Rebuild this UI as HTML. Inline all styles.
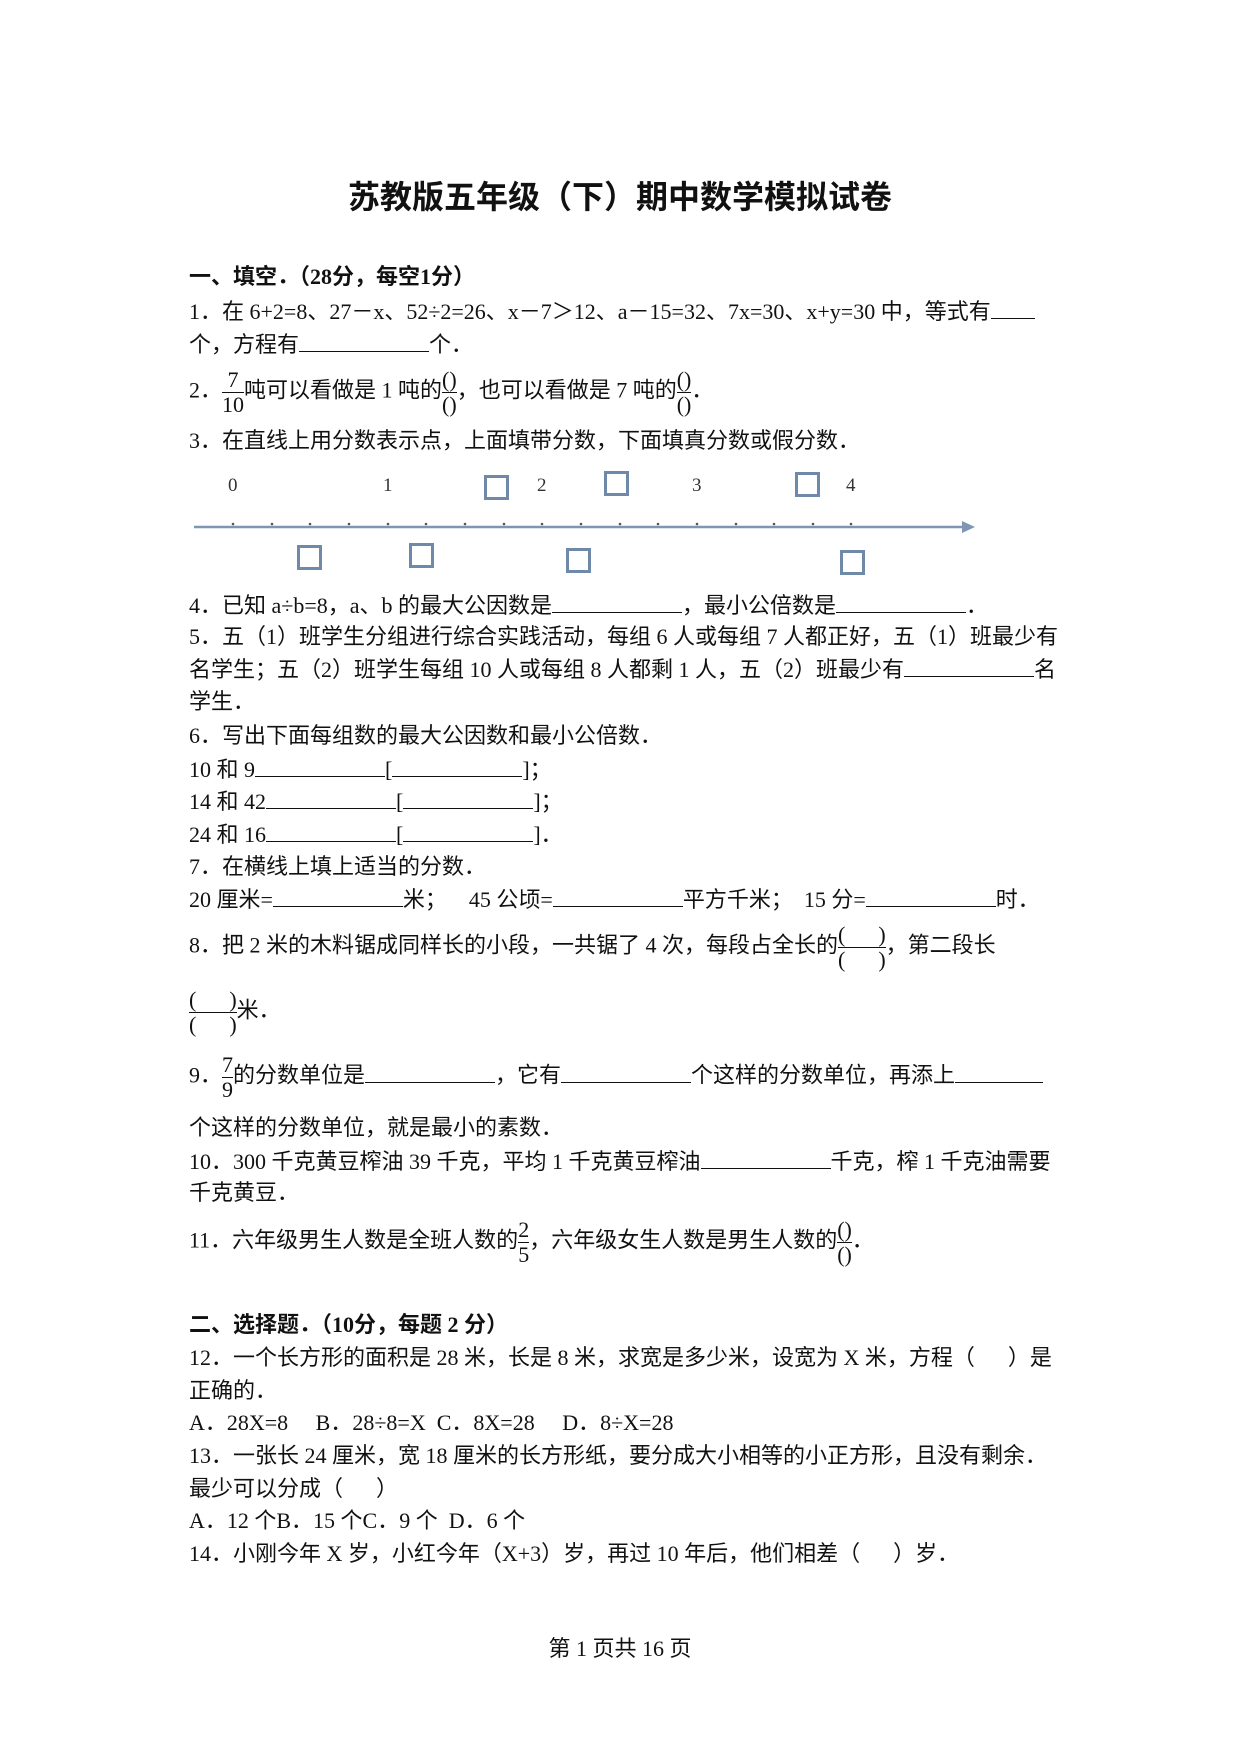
<!DOCTYPE html>
<html><head><meta charset="utf-8"><style>
body{margin:0;background:#fff}
.pg{position:relative;width:1240px;height:1754px;overflow:hidden;font-family:"Liberation Serif","Noto Sans CJK SC",serif;font-size:22px;color:#111}
.l{position:absolute;left:189px;white-space:nowrap;line-height:26px}
.b{display:inline-block;width:130px;border-bottom:1.5px solid #111;height:20px;vertical-align:baseline}
.fr{display:inline-block;vertical-align:middle;text-align:center;line-height:24px;font-size:22px}
.fr span{display:block}
.fr .n{border-bottom:1.3px solid #111}
.h{font-weight:bold}
.box{position:absolute;width:25px;height:25px;border:3px solid #6f8aa8;box-sizing:border-box}
.nl{position:absolute;font-size:19px;color:#333}
</style></head><body><div class="pg">
<div class="l h" style="left:0;width:1240px;text-align:center;top:179px;font-size:32px;line-height:36px">苏教版五年级（下）期中数学模拟试卷</div>
<div class="l h" style="top:264px">一、填空．（28分，每空1分）</div>
<div class="l" style="top:298px">1．在 6+2=8、27－x、52÷2=26、x－7＞12、a－15=32、7x=30、x+y=30 中，等式有<span class="b" style="width:44px"></span></div>
<div class="l" style="top:331px">个，方程有<span class="b"></span>个．</div>
<div class="l" style="top:368px">2．<span class="fr"><span class="n">7</span><span>10</span></span>吨可以看做是 1 吨的<span class="fr"><span class="n">()</span><span>()</span></span>，也可以看做是 7 吨的<span class="fr"><span class="n">()</span><span>()</span></span>．</div>
<div class="l" style="top:428px">3．在直线上用分数表示点，上面填带分数，下面填真分数或假分数．</div>
<svg style="position:absolute;left:0;top:0" width="1240" height="1754">
<line x1="194" y1="527" x2="965" y2="527" stroke="#7e96b3" stroke-width="2.5"/>
<polygon points="975,527 962,521 962,533" fill="#7e96b3"/>
<g fill="#555">
<circle cx="233" cy="524" r="1.3"/><circle cx="272" cy="524" r="1.3"/><circle cx="310" cy="524" r="1.3"/><circle cx="349" cy="524" r="1.3"/><circle cx="388" cy="524" r="1.3"/><circle cx="426" cy="524" r="1.3"/><circle cx="465" cy="524" r="1.3"/><circle cx="504" cy="524" r="1.3"/><circle cx="542" cy="524" r="1.3"/><circle cx="581" cy="524" r="1.3"/><circle cx="620" cy="524" r="1.3"/><circle cx="658" cy="524" r="1.3"/><circle cx="697" cy="524" r="1.3"/><circle cx="736" cy="524" r="1.3"/><circle cx="774" cy="524" r="1.3"/><circle cx="813" cy="524" r="1.3"/><circle cx="851" cy="524" r="1.3"/></g>
</svg>
<div class="nl" style="left:228px;top:475px">0</div>
<div class="nl" style="left:383px;top:475px">1</div>
<div class="nl" style="left:537px;top:475px">2</div>
<div class="nl" style="left:692px;top:475px">3</div>
<div class="nl" style="left:846px;top:475px">4</div>
<div class="box" style="left:484px;top:475px"></div>
<div class="box" style="left:604px;top:471px"></div>
<div class="box" style="left:795px;top:472px"></div>
<div class="box" style="left:297px;top:545px"></div>
<div class="box" style="left:409px;top:543px"></div>
<div class="box" style="left:566px;top:548px"></div>
<div class="box" style="left:840px;top:550px"></div>
<div class="l" style="top:592px">4．已知 a÷b=8，a、b 的最大公因数是<span class="b"></span>，最小公倍数是<span class="b"></span>．</div>
<div class="l" style="top:624px">5．五（1）班学生分组进行综合实践活动，每组 6 人或每组 7 人都正好，五（1）班最少有</div>
<div class="l" style="top:656px">名学生；五（2）班学生每组 10 人或每组 8 人都剩 1 人，五（2）班最少有<span class="b"></span>名</div>
<div class="l" style="top:689px">学生．</div>
<div class="l" style="top:723px">6．写出下面每组数的最大公因数和最小公倍数．</div>
<div class="l" style="top:756px">10 和 9<span class="b"></span>[<span class="b"></span>]；</div>
<div class="l" style="top:788px">14 和 42<span class="b"></span>[<span class="b"></span>]；</div>
<div class="l" style="top:821px">24 和 16<span class="b"></span>[<span class="b"></span>]．</div>
<div class="l" style="top:854px">7．在横线上填上适当的分数．</div>
<div class="l" style="top:886px">20 厘米=<span class="b"></span>米；&nbsp;&nbsp;&nbsp;&nbsp;45 公顷=<span class="b"></span>平方千米；&nbsp;&nbsp;15 分=<span class="b"></span>时．</div>
<div class="l" style="top:923px">8．把 2 米的木料锯成同样长的小段，一共锯了 4 次，每段占全长的<span class="fr"><span class="n">(&nbsp;&nbsp;&nbsp;&nbsp;&nbsp;&nbsp;)</span><span>(&nbsp;&nbsp;&nbsp;&nbsp;&nbsp;&nbsp;)</span></span>，第二段长</div>
<div class="l" style="top:988px"><span class="fr"><span class="n">(&nbsp;&nbsp;&nbsp;&nbsp;&nbsp;&nbsp;)</span><span>(&nbsp;&nbsp;&nbsp;&nbsp;&nbsp;&nbsp;)</span></span>米．</div>
<div class="l" style="top:1053px">9．<span class="fr"><span class="n">7</span><span>9</span></span>的分数单位是<span class="b"></span>，它有<span class="b"></span>个这样的分数单位，再添上<span class="b" style="width:88px"></span></div>
<div class="l" style="top:1115px">个这样的分数单位，就是最小的素数．</div>
<div class="l" style="top:1148px">10．300 千克黄豆榨油 39 千克，平均 1 千克黄豆榨油<span class="b"></span>千克，榨 1 千克油需要</div>
<div class="l" style="top:1180px">千克黄豆．</div>
<div class="l" style="top:1218px">11．六年级男生人数是全班人数的<span class="fr"><span class="n">2</span><span>5</span></span>，六年级女生人数是男生人数的<span class="fr"><span class="n">()</span><span>()</span></span>．</div>
<div class="l h" style="top:1312px">二、选择题．（10分，每题 2 分）</div>
<div class="l" style="top:1345px">12．一个长方形的面积是 28 米，长是 8 米，求宽是多少米，设宽为 X 米，方程（&nbsp;&nbsp;&nbsp;&nbsp;&nbsp;&nbsp;）是</div>
<div class="l" style="top:1378px">正确的．</div>
<div class="l" style="top:1410px">A．28X=8&nbsp;&nbsp;&nbsp;&nbsp;&nbsp;B．28÷8=X&nbsp;&nbsp;C．8X=28&nbsp;&nbsp;&nbsp;&nbsp;&nbsp;D．8÷X=28</div>
<div class="l" style="top:1443px">13．一张长 24 厘米，宽 18 厘米的长方形纸，要分成大小相等的小正方形，且没有剩余．</div>
<div class="l" style="top:1476px">最少可以分成（&nbsp;&nbsp;&nbsp;&nbsp;&nbsp;&nbsp;）</div>
<div class="l" style="top:1508px">A．12 个B．15 个C．9 个&nbsp;&nbsp;D．6 个</div>
<div class="l" style="top:1541px">14．小刚今年 X 岁，小红今年（X+3）岁，再过 10 年后，他们相差（&nbsp;&nbsp;&nbsp;&nbsp;&nbsp;&nbsp;）岁．</div>
<div class="l" style="left:0;width:1240px;text-align:center;top:1636px">第 1 页共 16 页</div>
</div></body></html>
